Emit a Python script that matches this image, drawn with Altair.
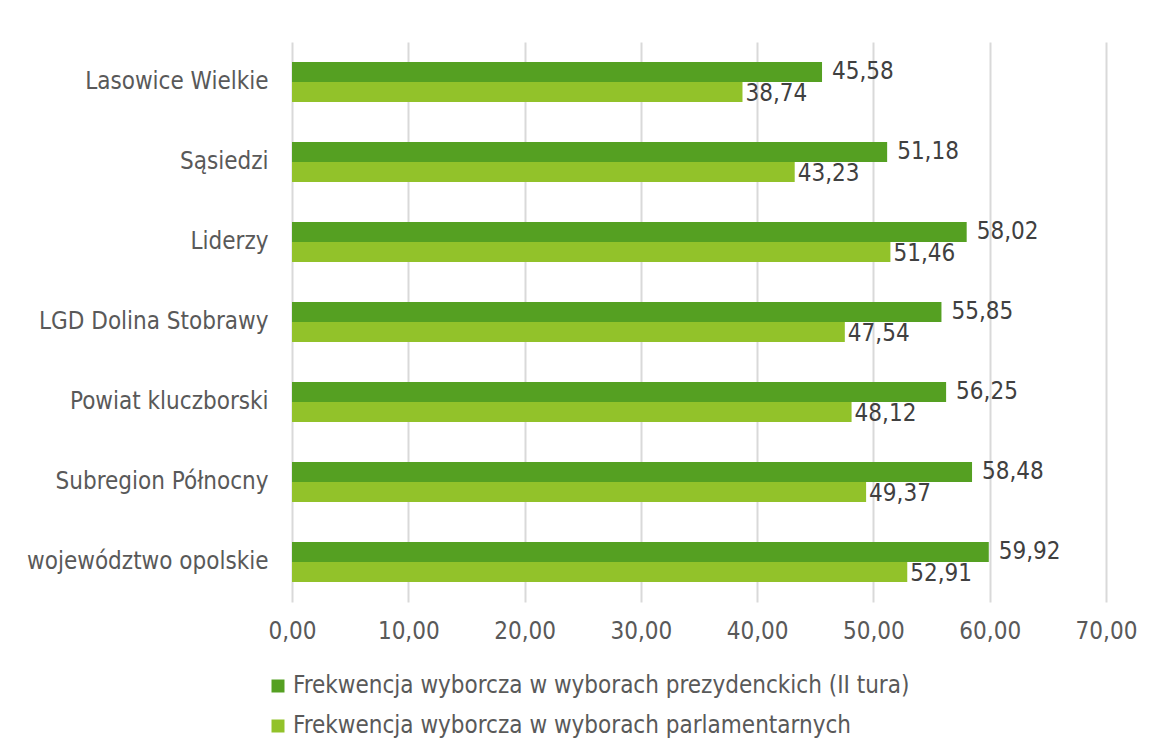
import altair as alt
import pandas as pd

categories = ["Lasowice Wielkie", "Sąsiedzi", "Liderzy", "LGD Dolina Stobrawy",
              "Powiat kluczborski", "Subregion Północny", "województwo opolskie"]
prez = [45.58, 51.18, 58.02, 55.85, 56.25, 58.48, 59.92]
parl = [38.74, 43.23, 51.46, 47.54, 48.12, 49.37, 52.91]
series = ["Frekwencja wyborcza w wyborach prezydenckich (II tura)",
          "Frekwencja wyborcza w wyborach parlamentarnych"]
colors = ["#55A022", "#92C22A"]

rows = []
for c, a, b in zip(categories, prez, parl):
    rows.append({"cat": c, "series": series[0], "v": a, "ord": 0})
    rows.append({"cat": c, "series": series[1], "v": b, "ord": 1})
df = pd.DataFrame(rows)

FONT = "DejaVu Sans Condensed"
TXT = "#595959"
FS = 24

base = alt.Chart(df).transform_calculate(
    lab="replace(format(datum.v, '.2f'), '.', ',')"
)

y_enc = alt.Y("cat:N", sort=categories, title=None,
              scale=alt.Scale(paddingInner=0.5, paddingOuter=0.25),
              axis=alt.Axis(labelFontSize=FS, labelColor=TXT, labelFont=FONT,
                            labelPadding=24, ticks=False, domain=False, grid=False,
                            labelLimit=400))
yoff = alt.YOffset("series:N", sort=series)

bars = base.mark_bar().encode(
    x=alt.X("v:Q", title=None,
            scale=alt.Scale(domain=[0, 70], nice=False),
            axis=alt.Axis(values=[0, 10, 20, 30, 40, 50, 60, 70],
                          labelExpr="replace(format(datum.value, '.2f'), '.', ',')",
                          labelFontSize=FS, labelColor=TXT, labelFont=FONT,
                          labelFlush=False,
                          labelPadding=17, ticks=False, domain=False,
                          grid=True, gridColor="#D9D9D9", gridWidth=2)),
    y=y_enc,
    yOffset=yoff,
    color=alt.Color("series:N", sort=series,
                    scale=alt.Scale(domain=series, range=colors),
                    legend=alt.Legend(title=None, orient="none", legendX=-26, legendY=632,
                                      direction="vertical", symbolType="square",
                                      symbolSize=169, symbolStrokeWidth=0,
                                      labelFontSize=FS, labelColor=TXT, labelFont=FONT,
                                      labelLimit=900, rowPadding=16, labelOffset=3,
                                      padding=0)),
)

t1 = base.transform_filter(alt.datum.ord == 0).mark_text(
    align="left", baseline="middle", dx=10, fontSize=FS, font=FONT, color="#404040"
).encode(x="v:Q", y=alt.Y("cat:N", sort=categories), yOffset=yoff, text="lab:N")

t2 = base.transform_filter(alt.datum.ord == 1).mark_text(
    align="left", baseline="middle", dx=3, dy=2, fontSize=FS, font=FONT, color="#404040"
).encode(x="v:Q", y=alt.Y("cat:N", sort=categories), yOffset=yoff, text="lab:N")

chart = alt.layer(bars, t1, t2).properties(
    width=814, height=560,
    autosize=alt.AutoSizeParams(type="none"),
    padding={"left": 284, "top": 34, "right": 40, "bottom": 140},
).configure_view(stroke=None)

chart.save("out.html", embed_options={"renderer": "svg", "actions": False})
